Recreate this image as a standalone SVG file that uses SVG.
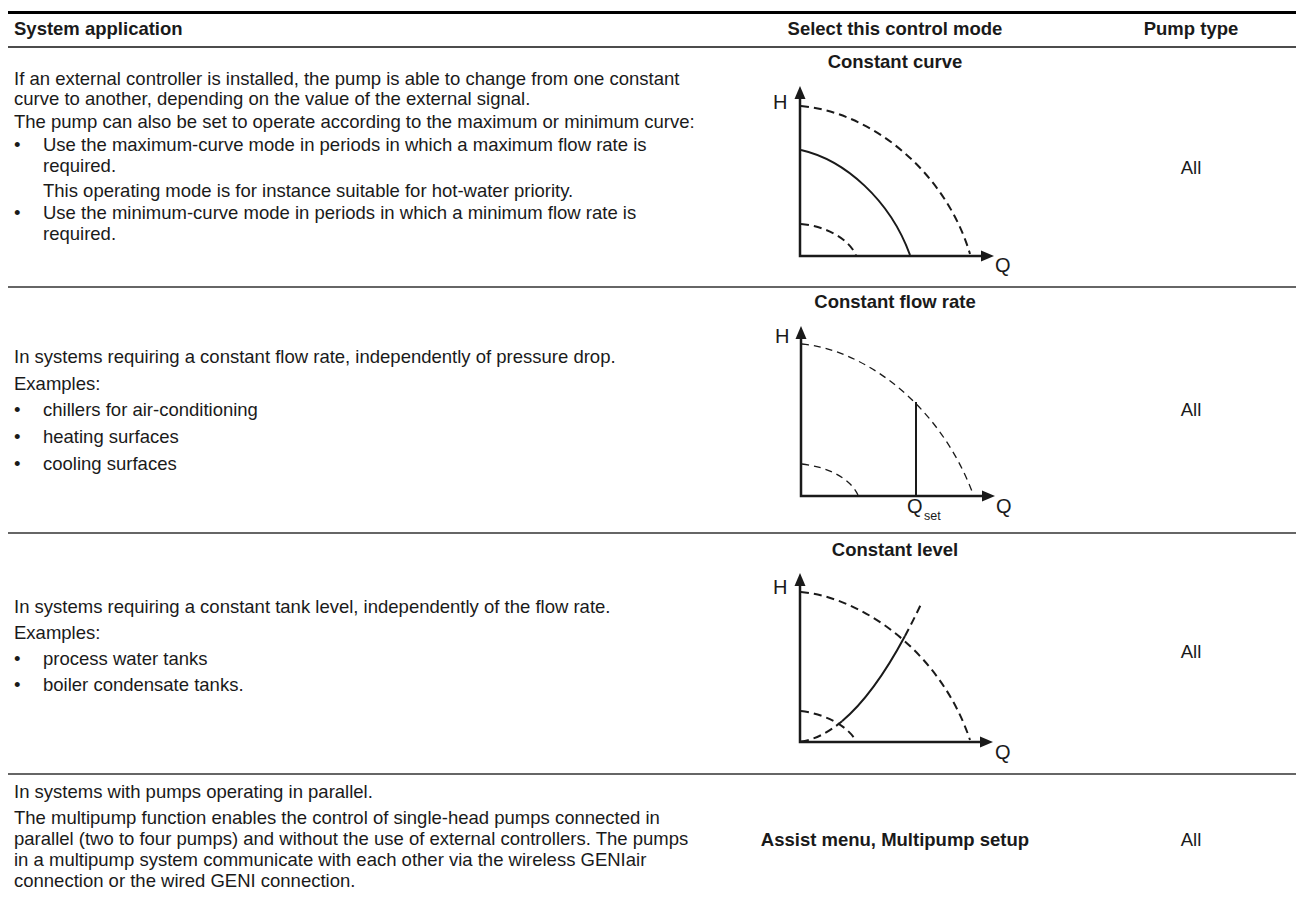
<svg xmlns="http://www.w3.org/2000/svg" width="1296" height="899" viewBox="0 0 1296 899">
<style>
.t{font-family:"Liberation Sans",Arial,sans-serif;font-size:18.5px;fill:#1a1a1a}
.b{font-family:"Liberation Sans",Arial,sans-serif;font-size:18.5px;font-weight:bold;fill:#1a1a1a}
.c{text-anchor:middle}
.ax{font-family:"Liberation Sans",Arial,sans-serif;font-size:20px;fill:#1a1a1a}
.sub{font-family:"Liberation Sans",Arial,sans-serif;font-size:12.5px;fill:#1a1a1a}
.axis{stroke:#1a1a1a;stroke-width:2.5;fill:none}
.sol{stroke:#1a1a1a;stroke-width:2;fill:none}
.dsh{stroke:#1a1a1a;stroke-width:2;fill:none;stroke-dasharray:8 5}
.dth{stroke:#1a1a1a;stroke-width:1.3;fill:none;stroke-dasharray:7 5}
.arr{fill:#1a1a1a}
.rule{stroke:#333;stroke-width:1.5}
</style>
<rect width="1296" height="899" fill="#fff"/>
<g id="header">
<line x1="8" y1="12.5" x2="1296" y2="12.5" stroke="#000" stroke-width="3"/>
<line x1="8" y1="47" x2="1296" y2="47" stroke="#111" stroke-width="1.6"/>
<text class="b" x="14" y="35">System application</text>
<text class="b c" x="895" y="35">Select this control mode</text>
<text class="b c" x="1191" y="35">Pump type</text>
</g>
<g id="rules">
<line class="rule" x1="8" y1="287" x2="1296" y2="287"/>
<line class="rule" x1="8" y1="533" x2="1296" y2="533"/>
<line class="rule" x1="8" y1="774" x2="1296" y2="774"/>
</g>
<g id="row-constant-curve">
<text class="t" x="14" y="85">If an external controller is installed, the pump is able to change from one constant</text>
<text class="t" x="14" y="105">curve to another, depending on the value of the external signal.</text>
<text class="t" x="14" y="128">The pump can also be set to operate according to the maximum or minimum curve:</text>
<text class="t" x="14" y="151">•</text>
<text class="t" x="43" y="151">Use the maximum-curve mode in periods in which a maximum flow rate is</text>
<text class="t" x="43" y="172">required.</text>
<text class="t" x="43" y="197">This operating mode is for instance suitable for hot-water priority.</text>
<text class="t" x="14" y="219">•</text>
<text class="t" x="43" y="219">Use the minimum-curve mode in periods in which a minimum flow rate is</text>
<text class="t" x="43" y="240">required.</text>
<text class="t c" x="1191" y="174">All</text>
</g>
<g id="chart-constant-curve">
<text class="b c" x="895" y="68">Constant curve</text>
<path class="axis" d="M800,97 V256 H982"/>
<path class="arr" d="M800,86 L794.5,99 L805.5,99 Z"/>
<path class="arr" d="M994,256 L981,250.5 L981,261.5 Z"/>
<text class="ax" x="773" y="109">H</text>
<text class="ax" x="995" y="272">Q</text>
<path class="dsh" d="M801,106 C870,112 945,170 970,254"/>
<path class="sol" d="M801,150 C845,160 890,200 910,255"/>
<path class="dsh" d="M801,224 C825,226 848,238 856,255"/>
</g>
<g id="row-constant-flow">
<text class="t" x="14" y="363">In systems requiring a constant flow rate, independently of pressure drop.</text>
<text class="t" x="14" y="390">Examples:</text>
<text class="t" x="14" y="416">•</text>
<text class="t" x="43" y="416">chillers for air-conditioning</text>
<text class="t" x="14" y="443">•</text>
<text class="t" x="43" y="443">heating surfaces</text>
<text class="t" x="14" y="470">•</text>
<text class="t" x="43" y="470">cooling surfaces</text>
<text class="t c" x="1191" y="416">All</text>
</g>
<g id="chart-constant-flow">
<text class="b c" x="895" y="308">Constant flow rate</text>
<path class="axis" d="M801,337 V496 H983"/>
<path class="arr" d="M801,326 L795.5,339 L806.5,339 Z"/>
<path class="arr" d="M995,496 L982,490.5 L982,501.5 Z"/>
<text class="ax" x="775" y="343">H</text>
<text class="ax" x="996" y="513">Q</text>
<text class="ax" x="907" y="513">Q</text>
<text class="sub" x="924" y="520">set</text>
<path class="dth" d="M802,344 C865,350 940,405 973,494"/>
<line class="sol" x1="916" y1="402" x2="916" y2="496"/>
<path class="dth" d="M802,464 C828,467 850,478 858,495"/>
</g>
<g id="row-constant-level">
<text class="t" x="14" y="613">In systems requiring a constant tank level, independently of the flow rate.</text>
<text class="t" x="14" y="639">Examples:</text>
<text class="t" x="14" y="665">•</text>
<text class="t" x="43" y="665">process water tanks</text>
<text class="t" x="14" y="691">•</text>
<text class="t" x="43" y="691">boiler condensate tanks.</text>
<text class="t c" x="1191" y="658">All</text>
</g>
<g id="chart-constant-level">
<text class="b c" x="895" y="556">Constant level</text>
<path class="axis" d="M800,584 V742 H981"/>
<path class="arr" d="M800,573 L794.5,586 L805.5,586 Z"/>
<path class="arr" d="M993,742 L980,736.5 L980,747.5 Z"/>
<text class="ax" x="773" y="594">H</text>
<text class="ax" x="995" y="759">Q</text>
<path class="dsh" d="M801,592 C860,597 940,650 970,740"/>
<path class="dsh" d="M801,711 C825,714 848,726 856,741"/>
<path class="dsh" d="M801,741.5 Q821,738.85 842,721.2"/>
<path class="sol" d="M842,721.2 Q873.5,694.8 905,636"/>
<path class="dsh" d="M905,636 Q913.5,620.1 922,602"/>
</g>
<g id="row-multipump">
<text class="t" x="14" y="798">In systems with pumps operating in parallel.</text>
<text class="t" x="14" y="824">The multipump function enables the control of single-head pumps connected in</text>
<text class="t" x="14" y="845">parallel (two to four pumps) and without the use of external controllers. The pumps</text>
<text class="t" x="14" y="866">in a multipump system communicate with each other via the wireless GENIair</text>
<text class="t" x="14" y="887">connection or the wired GENI connection.</text>
<text class="b c" x="895" y="846">Assist menu, Multipump setup</text>
<text class="t c" x="1191" y="846">All</text>
</g>
</svg>
